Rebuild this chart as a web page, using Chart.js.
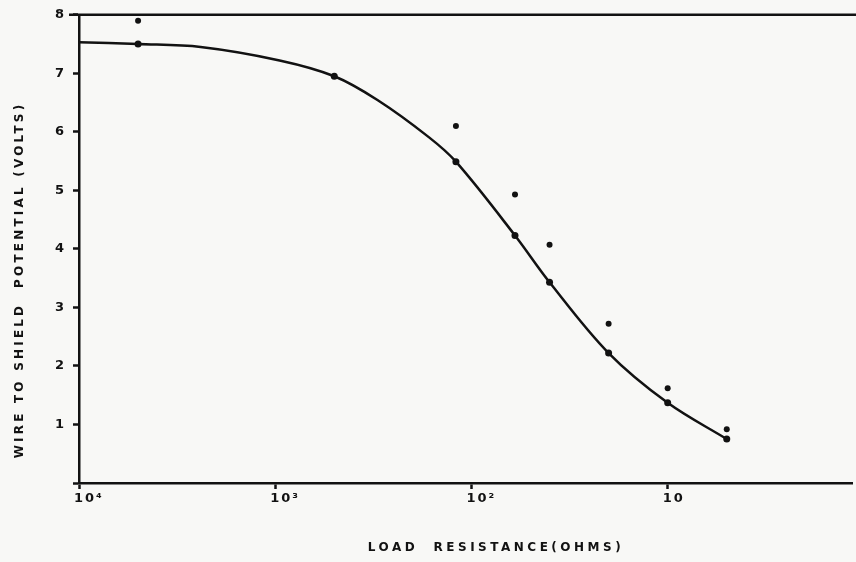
<!DOCTYPE html>
<html>
<head>
<meta charset="utf-8">
<script src="https://cdn.jsdelivr.net/npm/chart.js@4.4.1/dist/chart.umd.min.js"></script>
<style>
  html, body { margin: 0; padding: 0; background: #f8f8f6; }
  canvas { display: block; }
</style>
</head>
<body>
<canvas id="myChart" width="856" height="562"></canvas>
<script>
// fitted curve (ohms, volts)
const curveOhms = [10000, 5000, 2400, 950, 500, 300, 165, 120, 60, 40, 20, 10, 5];
const curveVolts = [7.53, 7.5, 7.45, 7.22, 6.95, 6.54, 5.91, 5.49, 4.23, 3.43, 2.22, 1.37, 0.75];

// measured points lying on the curve
const lowOhms = [5000, 500, 120, 60, 40, 20, 10, 5];
const lowVolts = [7.5, 6.95, 5.49, 4.23, 3.43, 2.22, 1.37, 0.75];

// measured points above the curve
const highOhms = [5000, 120, 60, 40, 20, 10, 5];
const highVolts = [7.9, 6.1, 4.93, 4.07, 2.72, 1.62, 0.92];

const xTickValues = [10000, 1000, 100, 10];
const xTickLabels = ['10⁴', '10³', '10²', '10'];

const xTitle = 'LOAD  RESISTANCE(OHMS)';
const yTitle = 'WIRE TO SHIELD  POTENTIAL (VOLTS)';

const ink = '#121212';
const face = "'DejaVu Sans', sans-serif";

function pairs(xs, ys) {
    return xs.map((x, i) => ({ x: x, y: ys[i] }));
}

// top edge of the frame and the hand-lettered axis titles
const frameAndTitles = {
    id: 'frameAndTitles',
    beforeDraw(chart) {
        chart.ctx.letterSpacing = '2px';
    },
    afterDraw(chart) {
        const { ctx, chartArea } = chart;
        ctx.save();
        ctx.strokeStyle = ink;
        ctx.lineWidth = 2.5;
        ctx.beginPath();
        ctx.moveTo(chartArea.left - 10, chartArea.top);
        ctx.lineTo(chart.width, chartArea.top);
        ctx.stroke();

        ctx.fillStyle = ink;
        ctx.font = 'bold 12px ' + face;
        ctx.textAlign = 'center';
        ctx.textBaseline = 'middle';
        ctx.letterSpacing = '3.5px';
        ctx.fillText(xTitle, 496, 548);

        ctx.letterSpacing = '3.2px';
        ctx.translate(20, 280);
        ctx.rotate(-Math.PI / 2);
        ctx.fillText(yTitle, 0, 0);
        ctx.restore();
        ctx.letterSpacing = '0px';
    }
};

const ctx = document.getElementById('myChart');

new Chart(ctx, {
    type: 'scatter',
    data: {
        datasets: [{
            data: pairs(curveOhms, curveVolts),
            showLine: true,
            borderColor: ink,
            borderWidth: 2.5,
            pointRadius: 0,
            tension: 0.35
        }, {
            data: pairs(lowOhms, lowVolts),
            pointRadius: 3.5,
            backgroundColor: ink,
            borderWidth: 0
        }, {
            data: pairs(highOhms, highVolts),
            pointRadius: 3,
            backgroundColor: ink,
            borderWidth: 0
        }]
    },
    options: {
        responsive: false,
        animation: false,
        layout: {
            padding: { top: 14, right: 0, bottom: 0, left: 0 }
        },
        plugins: {
            legend: { display: false },
            tooltip: { enabled: false }
        },
        scales: {
            x: {
                type: 'logarithmic',
                reverse: true,
                min: 1.15,
                max: 10000,
                afterBuildTicks: (scale) => {
                    scale.ticks = xTickValues.map(v => ({ value: v }));
                },
                afterFit: (scale) => { scale.height = 79; },
                ticks: {
                    autoSkip: false,
                    maxRotation: 0,
                    align: 'start',
                    labelOffset: -5,
                    padding: 2,
                    color: ink,
                    font: { family: face, size: 13, weight: 'bold' },
                    callback: (value, index) => xTickLabels[index]
                },
                grid: {
                    display: true,
                    drawOnChartArea: false,
                    drawTicks: true,
                    tickLength: 6,
                    tickWidth: 2.5,
                    tickColor: ink
                },
                border: { display: true, color: ink, width: 2.5 },
                title: { display: false }
            },
            y: {
                min: 0,
                max: 8,
                afterFit: (scale) => { scale.width = 79; },
                ticks: {
                    stepSize: 1,
                    padding: 7,
                    color: ink,
                    font: { family: face, size: 13, weight: 'bold' },
                    callback: (value) => value === 0 ? '' : String(value)
                },
                grid: {
                    display: true,
                    drawOnChartArea: false,
                    drawTicks: true,
                    tickLength: 6,
                    tickWidth: 2.5,
                    tickColor: ink
                },
                border: { display: true, color: ink, width: 2.5 },
                title: { display: false }
            }
        }
    },
    plugins: [frameAndTitles]
});
</script>
</body>
</html>
